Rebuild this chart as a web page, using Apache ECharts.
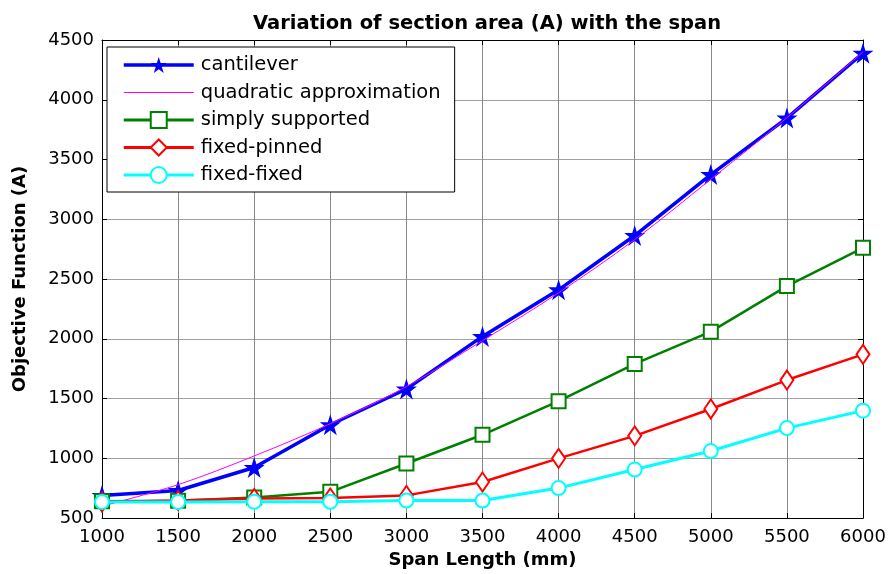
<!DOCTYPE html>
<html>
<head>
<meta charset="utf-8">
<script src="https://cdn.jsdelivr.net/npm/echarts@6/dist/echarts.min.js"></script>
<style>html,body{margin:0;padding:0;background:#fff}#c{width:890px;height:574px}</style>
</head>
<body>
<div id="c"></div>
<script>
var spans = [1000, 1500, 2000, 2500, 3000, 3500, 4000, 4500, 5000, 5500, 6000];
var cantilever = [690, 731, 923, 1281, 1580, 2020, 2410, 2864, 3374, 3847, 4390];
var quadratic = [600, 780, 1020, 1290, 1600, 1985, 2385, 2830, 3335, 3850, 4400];
var simplySupported = [640, 645, 672, 720, 957, 1197, 1478, 1790, 2060, 2441, 2761];
var fixedPinned = [635, 648, 665, 668, 690, 802, 1000, 1188, 1413, 1655, 1870];
var fixedFixed = [635, 635, 636, 637, 647, 647, 751, 906, 1061, 1253, 1399];
var seriesNames = ['cantilever', 'quadratic approximation', 'simply supported', 'fixed-pinned', 'fixed-fixed'];

function pairs(ys) { return spans.map(function (x, i) { return [x, ys[i]]; }); }
var star = 'path://M50,0 L61.2,34.5 L97.6,34.5 L68.2,55.9 L79.4,90.5 L50,69.1 L20.6,90.5 L31.8,55.9 L2.4,34.5 L38.8,34.5 Z';
var FONT = '"DejaVu Sans", sans-serif';
function plain(v) { return String(v); }

var chart = echarts.init(document.getElementById('c'), null, {renderer: 'canvas'});
var axisLine = {show: true, onZero: false, lineStyle: {color: '#000', width: 1}};
var axisTick = {show: true, inside: true, length: 5, lineStyle: {color: '#000'}};
chart.setOption({
  animation: false,
  backgroundColor: '#fff',
  title: {
    text: 'Variation of section area (A) with the span',
    left: 482, top: 9, textAlign: 'center',
    textStyle: {fontFamily: FONT, fontWeight: 'bold', fontSize: 19.5, color: '#000'}
  },
  grid: {left: 102, right: 27, top: 40, bottom: 55, containLabel: false},
  legend: {
    orient: 'vertical', left: 107, top: 47,
    data: [
      {name: seriesNames[0], lineStyle: {width: 3.5}},
      {name: seriesNames[1], itemStyle: {opacity: 0}, lineStyle: {width: 1}},
      {name: seriesNames[2], lineStyle: {width: 3}},
      {name: seriesNames[3], lineStyle: {width: 3}},
      {name: seriesNames[4], lineStyle: {width: 3}}
    ],
    backgroundColor: '#fff', borderColor: '#000', borderWidth: 1, borderRadius: 0,
    padding: [8, 14, 7, 15],
    itemWidth: 70, itemHeight: 20, itemGap: 7.5,
    textStyle: {fontFamily: FONT, fontSize: 19.5, color: '#000', padding: [0, 0, 0, 2]}
  },
  xAxis: [
    {
      type: 'value', min: 1000, max: 6000, interval: 500,
      axisLine: axisLine, axisTick: axisTick,
      name: 'Span Length (mm)', nameLocation: 'middle', nameGap: 31,
      nameTextStyle: {fontFamily: FONT, fontWeight: 'bold', fontSize: 18, color: '#000'},
      axisLabel: {color: '#000', fontFamily: FONT, fontSize: 18, margin: 10, formatter: plain},
      splitLine: {show: true, lineStyle: {color: '#8a8a8a', width: 1}}
    },
    {
      type: 'value', min: 1000, max: 6000, interval: 500, position: 'top',
      axisLine: axisLine, axisTick: axisTick,
      axisLabel: {show: false}, splitLine: {show: false}
    }
  ],
  yAxis: [
    {
      type: 'value', min: 500, max: 4500, interval: 500,
      axisLine: axisLine, axisTick: axisTick,
      name: 'Objective Function (A)', nameLocation: 'middle', nameGap: 73,
      nameTextStyle: {fontFamily: FONT, fontWeight: 'bold', fontSize: 18, color: '#000'},
      axisLabel: {color: '#000', fontFamily: FONT, fontSize: 18, margin: 8, formatter: plain},
      splitLine: {show: true, lineStyle: {color: '#a0a0a0', width: 1}}
    },
    {
      type: 'value', min: 500, max: 4500, interval: 500, position: 'right',
      axisLine: axisLine, axisTick: axisTick,
      axisLabel: {show: false}, splitLine: {show: false}
    }
  ],
  series: [
    {name: seriesNames[0], type: 'line', data: pairs(cantilever),
     symbol: star, symbolSize: 21, lineStyle: {width: 3.5, color: '#0000ff'},
     itemStyle: {color: '#0000ff'}, z: 2},
    {name: seriesNames[1], type: 'line', data: pairs(quadratic), smooth: 0.35,
     symbol: 'circle', showSymbol: false, lineStyle: {width: 1, color: '#ff00ff'},
     itemStyle: {color: '#ff00ff'}, z: 3},
    {name: seriesNames[2], type: 'line', data: pairs(simplySupported),
     symbol: 'emptyRect', symbolSize: 14, lineStyle: {width: 2.5, color: '#008000'},
     itemStyle: {color: '#008000', borderWidth: 2.5}, z: 4},
    {name: seriesNames[3], type: 'line', data: pairs(fixedPinned),
     symbol: 'emptyDiamond', symbolSize: [13, 19], lineStyle: {width: 2.5, color: '#ff0000'},
     itemStyle: {color: '#ff0000', borderWidth: 2.5}, z: 5},
    {name: seriesNames[4], type: 'line', data: pairs(fixedFixed),
     symbol: 'emptyCircle', symbolSize: 14, lineStyle: {width: 3, color: '#00ffff'},
     itemStyle: {color: '#00ffff', borderWidth: 2.5}, z: 6}
  ]
});
</script>
</body>
</html>
